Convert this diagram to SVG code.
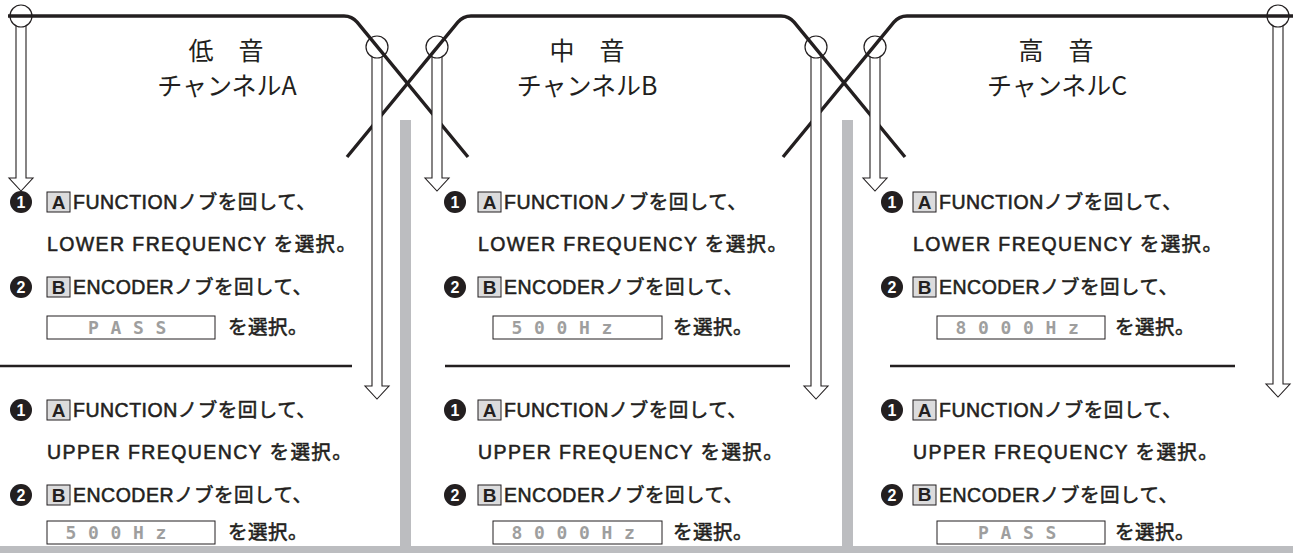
<svg xmlns="http://www.w3.org/2000/svg" width="1293" height="553" viewBox="0 0 1293 553">
<style>
.ln{fill:none;stroke:#231f20;stroke-width:3.4;stroke-linejoin:round}
.ring{fill:none;stroke:#231f20;stroke-width:1.2}
.arw{fill:#fff;stroke:#231f20;stroke-width:1.1}
.gray{fill:#bcbdc0}
.sep{stroke:#231f20;stroke-width:2.5}
.title{font-family:"Noto Sans CJK JP",sans-serif;font-size:25px;fill:#231f20;text-anchor:middle}
.body{font-family:"Liberation Sans","Noto Sans CJK JP",sans-serif;font-size:19.5px;fill:#231f20;stroke:#231f20;stroke-width:0.55;letter-spacing:0.5px}
.wide{letter-spacing:1.4px}
.num{fill:#231f20}
.numt{font-family:"Liberation Sans",sans-serif;font-size:16px;font-weight:bold;fill:#fff;text-anchor:middle}
.key{fill:#dcdcdd;stroke:#231f20;stroke-width:1}
.keyt{font-family:"Liberation Sans",sans-serif;font-size:19px;font-weight:bold;fill:#231f20;text-anchor:middle}
.lcd{fill:#fff;stroke:#231f20;stroke-width:1}
.lcdt{font-family:"DejaVu Sans Mono",monospace;font-size:18px;font-weight:bold;fill:url(#dots);text-anchor:middle}
</style>
<defs>
<pattern id="dots" width="1.8" height="1.8" patternUnits="userSpaceOnUse">
<rect width="1.8" height="1.8" fill="#fff"/>
<circle cx="0.9" cy="0.9" r="0.72" fill="#222"/>
</pattern>
</defs>

<g id="gray-bars">
<rect class="gray" x="400" y="120" width="11" height="430"/>
<rect class="gray" x="842" y="120" width="11" height="430"/>
<rect class="gray" x="0" y="546" width="1293" height="7"/>
</g>

<g id="connectors">
<path class="ln" d="M8,16 H344 Q352,16 357.1,22.2 L468,157"/>
<path class="ln" d="M347,157 L457.9,22.2 Q463,16 471,16 H781 Q789,16 794.1,22.2 L905,157"/>
<path class="ln" d="M783,157 L893.9,22.2 Q899,16 907,16 H1293"/>
<path class="arw" d="M16,26 V178 H9 L21,191 L33,178 H26 V26"/>
<path class="arw" d="M372,57 V386 H365 L377,399 L389,386 H382 V57"/>
<path class="arw" d="M432,57 V178 H425 L437,191 L449,178 H442 V57"/>
<path class="arw" d="M811,57 V386 H804 L816,399 L828,386 H821 V57"/>
<path class="arw" d="M870,57 V178 H863 L875,191 L887,178 H880 V57"/>
<path class="arw" d="M1273,26 V384 H1266 L1278,397 L1290,384 H1283 V26"/>
<circle class="ring" cx="21" cy="16" r="11"/>
<circle class="ring" cx="377" cy="47" r="11"/>
<circle class="ring" cx="437" cy="47" r="11"/>
<circle class="ring" cx="816" cy="47" r="11"/>
<circle class="ring" cx="875" cy="47" r="11"/>
<circle class="ring" cx="1278" cy="16" r="11"/>
</g>

<g id="title-low">
<text class="title" x="226" y="60">低　音</text>
<text class="title" x="227" y="95">チャンネルA</text>
</g>
<g id="title-mid">
<text class="title" x="587" y="60">中　音</text>
<text class="title" x="587" y="95">チャンネルB</text>
</g>
<g id="title-high">
<text class="title" x="1056" y="60">高　音</text>
<text class="title" x="1057" y="95">チャンネルC</text>
</g>

<g id="col-low">
<circle class="num" cx="21" cy="202" r="11"/><text class="numt" x="21" y="207.7">1</text>
<rect class="key" x="47" y="192" width="23" height="20"/><text class="keyt" x="58.5" y="209">A</text>
<text class="body" x="73" y="209">FUNCTIONノブを回して、</text>
<text class="body wide" x="47" y="251">LOWER FREQUENCY を選択。</text>
<circle class="num" cx="21" cy="287" r="11"/><text class="numt" x="21" y="292.7">2</text>
<rect class="key" x="47" y="277" width="23" height="20"/><text class="keyt" x="58.5" y="294">B</text>
<text class="body" x="73" y="294">ENCODERノブを回して、</text>
<rect class="lcd" x="47" y="316" width="168" height="23"/>
<text class="lcdt" x="93.5 116 138.5 161" y="334">PASS</text>
<text class="body" x="228" y="334">を選択。</text>
<line class="sep" x1="0" y1="366" x2="352" y2="366"/>
<circle class="num" cx="21" cy="410" r="11"/><text class="numt" x="21" y="415.7">1</text>
<rect class="key" x="47" y="400" width="23" height="20"/><text class="keyt" x="58.5" y="417">A</text>
<text class="body" x="73" y="417">FUNCTIONノブを回して、</text>
<text class="body wide" x="47" y="459">UPPER FREQUENCY を選択。</text>
<circle class="num" cx="21" cy="495" r="11"/><text class="numt" x="21" y="500.7">2</text>
<rect class="key" x="47" y="485" width="23" height="20"/><text class="keyt" x="58.5" y="502">B</text>
<text class="body" x="73" y="502">ENCODERノブを回して、</text>
<rect class="lcd" x="47" y="521" width="168" height="23"/>
<text class="lcdt" x="71 93.5 116 138.5 161" y="539">500Hz</text>
<text class="body" x="228" y="539">を選択。</text>
</g>

<g id="col-mid">
<circle class="num" cx="455" cy="202" r="11"/><text class="numt" x="455" y="207.7">1</text>
<rect class="key" x="478" y="192" width="23" height="20"/><text class="keyt" x="489.5" y="209">A</text>
<text class="body" x="504" y="209">FUNCTIONノブを回して、</text>
<text class="body wide" x="478" y="251">LOWER FREQUENCY を選択。</text>
<circle class="num" cx="455" cy="287" r="11"/><text class="numt" x="455" y="292.7">2</text>
<rect class="key" x="478" y="277" width="23" height="20"/><text class="keyt" x="489.5" y="294">B</text>
<text class="body" x="504" y="294">ENCODERノブを回して、</text>
<rect class="lcd" x="493" y="316" width="169" height="23"/>
<text class="lcdt" x="517 539.5 562 584.5 607" y="334">500Hz</text>
<text class="body" x="673" y="334">を選択。</text>
<line class="sep" x1="445" y1="366" x2="790" y2="366"/>
<circle class="num" cx="455" cy="410" r="11"/><text class="numt" x="455" y="415.7">1</text>
<rect class="key" x="478" y="400" width="23" height="20"/><text class="keyt" x="489.5" y="417">A</text>
<text class="body" x="504" y="417">FUNCTIONノブを回して、</text>
<text class="body wide" x="478" y="459">UPPER FREQUENCY を選択。</text>
<circle class="num" cx="455" cy="495" r="11"/><text class="numt" x="455" y="500.7">2</text>
<rect class="key" x="478" y="485" width="23" height="20"/><text class="keyt" x="489.5" y="502">B</text>
<text class="body" x="504" y="502">ENCODERノブを回して、</text>
<rect class="lcd" x="493" y="521" width="169" height="23"/>
<text class="lcdt" x="517 539.5 562 584.5 607 629.5" y="539">8000Hz</text>
<text class="body" x="673" y="539">を選択。</text>
</g>

<g id="col-high">
<circle class="num" cx="892" cy="202" r="11"/><text class="numt" x="892" y="207.7">1</text>
<rect class="key" x="913" y="192" width="23" height="20"/><text class="keyt" x="924.5" y="209">A</text>
<text class="body" x="939" y="209">FUNCTIONノブを回して、</text>
<text class="body wide" x="913" y="251">LOWER FREQUENCY を選択。</text>
<circle class="num" cx="892" cy="287" r="11"/><text class="numt" x="892" y="292.7">2</text>
<rect class="key" x="913" y="277" width="23" height="20"/><text class="keyt" x="924.5" y="294">B</text>
<text class="body" x="939" y="294">ENCODERノブを回して、</text>
<rect class="lcd" x="937" y="316" width="168" height="23"/>
<text class="lcdt" x="961 983.5 1006 1028.5 1051 1073.5" y="334">8000Hz</text>
<text class="body" x="1115" y="334">を選択。</text>
<line class="sep" x1="890" y1="366" x2="1235" y2="366"/>
<circle class="num" cx="892" cy="410" r="11"/><text class="numt" x="892" y="415.7">1</text>
<rect class="key" x="913" y="400" width="23" height="20"/><text class="keyt" x="924.5" y="417">A</text>
<text class="body" x="939" y="417">FUNCTIONノブを回して、</text>
<text class="body wide" x="913" y="459">UPPER FREQUENCY を選択。</text>
<circle class="num" cx="892" cy="495" r="11"/><text class="numt" x="892" y="500.7">2</text>
<rect class="key" x="913" y="485" width="23" height="20"/><text class="keyt" x="924.5" y="501">B</text>
<text class="body" x="939" y="502">ENCODERノブを回して、</text>
<rect class="lcd" x="937" y="521" width="168" height="23"/>
<text class="lcdt" x="983.5 1006 1028.5 1051" y="539">PASS</text>
<text class="body" x="1115" y="539">を選択。</text>
</g>
</svg>
